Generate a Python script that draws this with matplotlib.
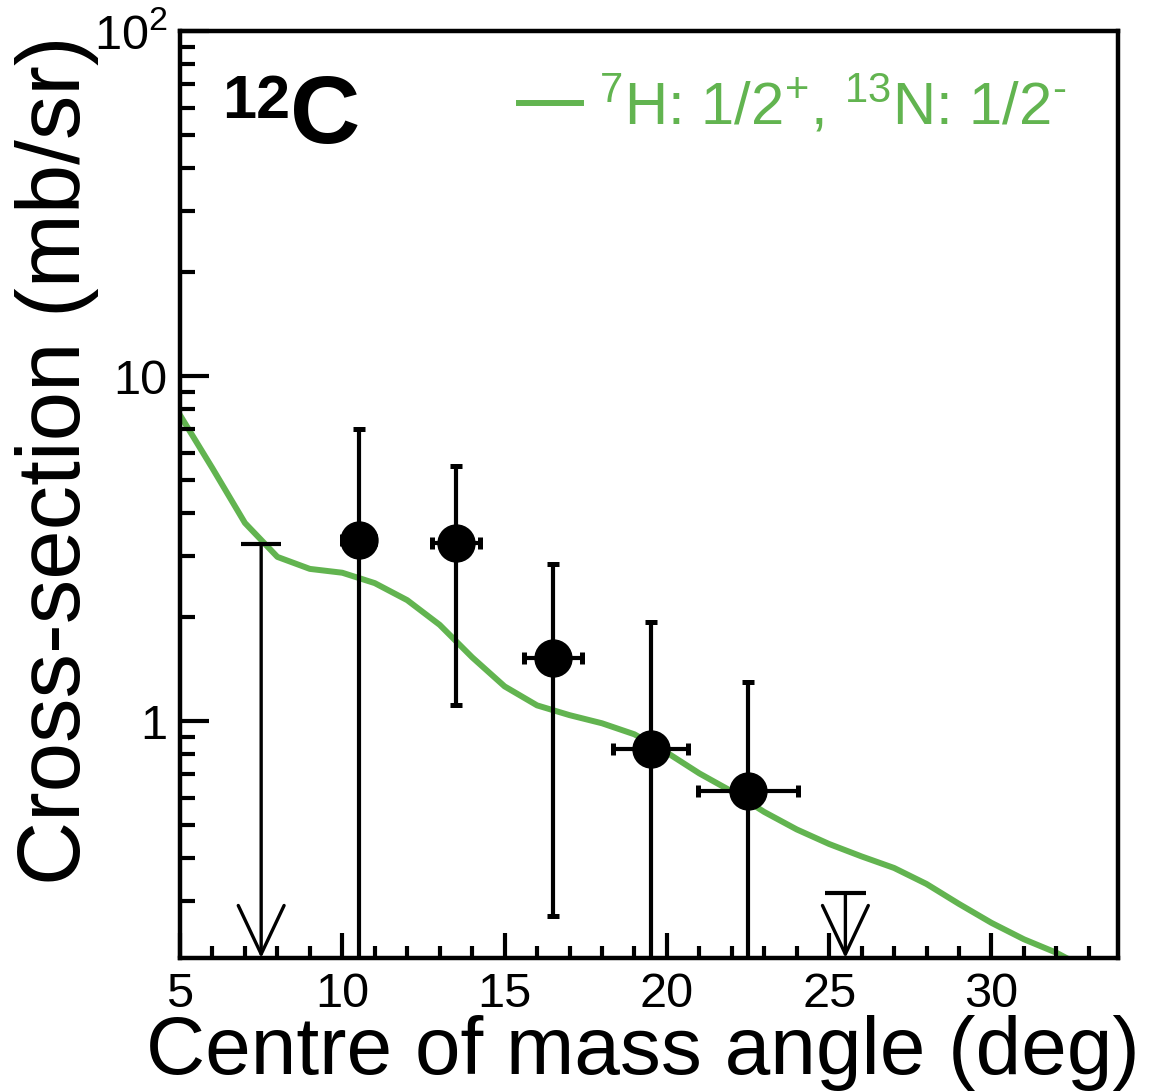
import matplotlib
matplotlib.use('Agg')
import matplotlib.pyplot as plt
from matplotlib.ticker import MultipleLocator, FixedLocator, FuncFormatter
from matplotlib.lines import Line2D

plt.rcParams['font.family'] = 'Liberation Sans'
plt.rcParams['mathtext.fontset'] = 'custom'
plt.rcParams['mathtext.rm'] = 'Liberation Sans'
plt.rcParams['mathtext.it'] = 'Liberation Sans:italic'
plt.rcParams['mathtext.bf'] = 'Liberation Sans:bold'

# Theory curve (7H: 1/2+, 13N: 1/2-)
theory_angle = [5, 6, 7, 8, 9, 10, 11, 12, 13, 14, 15, 16, 17, 18, 19,
                20, 21, 22, 23, 24, 25, 26, 27, 28, 29, 30, 31, 32, 33]
theory_xs = [7.7, 5.4, 3.75, 2.99, 2.76, 2.69, 2.51, 2.24, 1.90, 1.53, 1.26, 1.11, 1.04, 0.985, 0.915,
             0.81, 0.705, 0.625, 0.545, 0.485, 0.44, 0.405, 0.375, 0.337, 0.295, 0.26, 0.233, 0.213, 0.19]

# Measured points
data_angle = [10.5, 13.5, 16.5, 19.5, 22.5]
data_xs = [3.35, 3.28, 1.52, 0.83, 0.625]
data_hi = [7.0, 5.48, 2.85, 1.94, 1.30]      # upper end of error bar
data_lo = [0.01, 1.11, 0.272, 0.01, 0.01]    # lower end (0.01 -> below frame)
data_xerr = [0.5, 0.75, 0.9, 1.15, 1.55]

# Upper limits
limit_angle = [7.5, 25.5]
limit_xs = [3.25, 0.317]

GREEN = '#62b450'
YMIN, YMAX = 0.2056, 100
XMIN, XMAX = 5, 33.9

fig = plt.figure(figsize=(11.69, 10.92), dpi=100)
ax = fig.add_axes([0.154, 0.1227, 0.8024, 0.8489])

ax.plot(theory_angle, theory_xs, color=GREEN, lw=4.3, zorder=1)

yerr = [[v - lo for v, lo in zip(data_xs, data_lo)],
        [hi - v for v, hi in zip(data_xs, data_hi)]]
ax.errorbar(data_angle, data_xs, xerr=data_xerr, yerr=yerr, fmt='o', color='black',
            ms=26.6, elinewidth=3, capsize=4, capthick=3.6, zorder=3)

# upper limits: cap + arrow down to the frame
for a, v in zip(limit_angle, limit_xs):
    ax.hlines(v, a - 0.62, a + 0.62, color='black', lw=3, zorder=3)
    ax.annotate('', xy=(a, YMIN), xytext=(a, v),
                arrowprops=dict(arrowstyle='->,head_length=0.7,head_width=0.33',
                                mutation_scale=50, lw=2.4, color='black',
                                shrinkA=0, shrinkB=0), zorder=3)

ax.set_yscale('log')
ax.set_xlim(XMIN, XMAX)
ax.set_ylim(YMIN, YMAX)

ax.xaxis.set_major_locator(MultipleLocator(5))
ax.xaxis.set_minor_locator(MultipleLocator(1))
ax.yaxis.set_major_locator(FixedLocator([1, 10, 100]))
ax.yaxis.set_minor_locator(FixedLocator([m * d for d in [0.1, 1, 10] for m in range(2, 10)]))
ylabels = {1: '1', 10: '10', 100: '$10^{2}$'}
ax.yaxis.set_major_formatter(FuncFormatter(lambda v, p: ylabels.get(int(round(v)), '')))
ax.yaxis.set_minor_formatter(FuncFormatter(lambda v, p: ''))

ax.tick_params(axis='both', which='both', direction='in', top=False, right=False, width=3)
ax.tick_params(axis='x', which='major', length=18, labelsize=35, pad=10)
ax.tick_params(axis='x', which='minor', length=9)
ax.tick_params(axis='y', which='major', length=21, labelsize=35, pad=9)
ax.tick_params(axis='y', which='minor', length=11)
for s in ax.spines.values():
    s.set_linewidth(3.2)

ax.set_xlabel('Centre of mass angle (deg)', fontsize=59, loc='right')
ax.xaxis.set_label_coords(1.0235, -0.062)
ax.set_ylabel('Cross-section (mb/sr)', fontsize=64, loc='top')
ax.yaxis.set_label_coords(-0.086, 0.995)

ax.text(0.0448, 0.906, '12', transform=ax.transAxes, fontsize=44, fontweight='bold')
ax.text(0.1173, 0.8792, 'C', transform=ax.transAxes, fontsize=70, fontweight='bold')

handle = Line2D([], [], color=GREEN, lw=4.3)
ax.legend([handle], [r'$^{7}$H: 1/2$^{+}$, $^{13}$N: 1/2$^{\text{-}}$'], loc='center right',
          bbox_to_anchor=(0.945, 0.92), frameon=False, fontsize=43, labelcolor=GREEN,
          handlelength=1.05, handletextpad=0.3, borderpad=0, borderaxespad=0)

fig.savefig('out.png', dpi=100)
